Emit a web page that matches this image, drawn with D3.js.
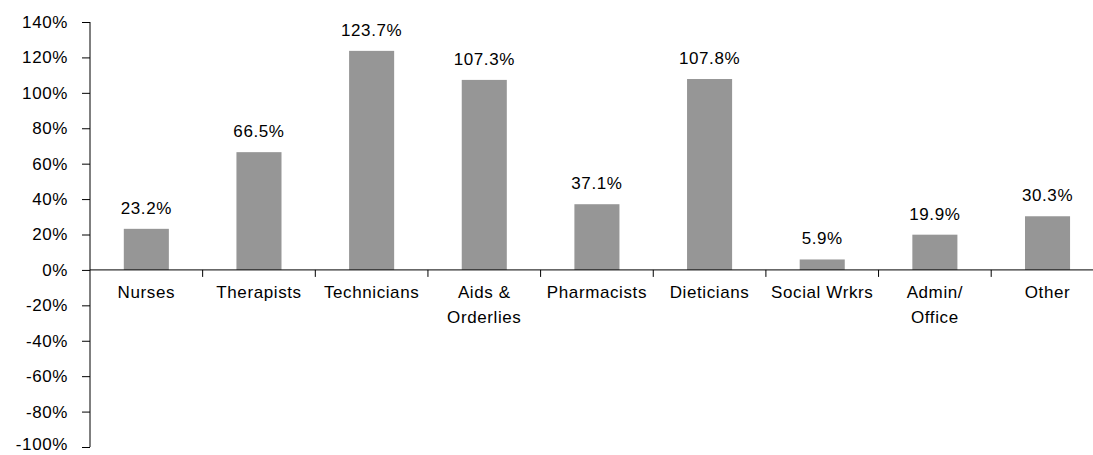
<!DOCTYPE html>
<html>
<head>
<meta charset="utf-8">
<script src="https://cdn.jsdelivr.net/npm/d3@7"></script>
<style>
  html, body { margin: 0; padding: 0; background: #fff; }
  svg { display: block; }
  text { font-family: "Liberation Sans", Arial, sans-serif; fill: #000; }
</style>
</head>
<body>
<div id="chart"></div>
<script>
// Percentage change by staff category
const categories = ["Nurses", "Therapists", "Technicians", "Aids &\nOrderlies", "Pharmacists",
                    "Dieticians", "Social Wrkrs", "Admin/\nOffice", "Other"];
const values = [23.2, 66.5, 123.7, 107.3, 37.1, 107.8, 5.9, 19.9, 30.3];
const yTicks = [140, 120, 100, 80, 60, 40, 20, 0, -20, -40, -60, -80, -100];

const W = 1093, H = 455;
const plotLeft = 90, plotTop = 22, plotBottom = 447;
const step = 112.65;

const svg = d3.select("#chart").append("svg")
  .attr("width", W).attr("height", H);

const y = d3.scaleLinear().domain([-100, 140]).range([plotBottom, plotTop]);
const x = d3.scaleBand().domain(categories)
  .range([plotLeft, plotLeft + step * categories.length])
  .paddingInner(0.6).paddingOuter(0.3);

// Bars
svg.append("g").selectAll("rect").data(values).join("rect")
  .attr("x", (d, i) => x(categories[i]))
  .attr("width", x.bandwidth())
  .attr("y", d => y(Math.max(0, d)))
  .attr("height", d => Math.abs(y(d) - y(0)))
  .attr("fill", "#969696");

// Value labels
svg.append("g").selectAll("text").data(values).join("text")
  .attr("x", (d, i) => x(categories[i]) + x.bandwidth() / 2)
  .attr("y", d => y(d) - 15)
  .attr("text-anchor", "middle")
  .style("font-size", "17px")
  .style("letter-spacing", "0.6px")
  .text(d => d.toFixed(1) + "%");

// Value axis
const yAxis = d3.axisLeft(y).tickValues(yTicks)
  .tickSize(8).tickPadding(14)
  .tickFormat(d => d + "%");
const gy = svg.append("g").attr("transform", `translate(${plotLeft},0)`).call(yAxis);
gy.select(".domain").attr("stroke", "#000").attr("d", `M0,${plotTop}V${plotBottom}`);
gy.selectAll(".tick line").attr("stroke", "#000");
gy.selectAll(".tick text")
  .style("font-size", "17px").style("letter-spacing", "0.6px")
  .style("font-family", "'Liberation Sans', Arial, sans-serif").attr("fill", "#000");
// lowest label sits at the bottom edge; lift it slightly so it stays inside
gy.selectAll(".tick text").filter(d => d === -100).attr("dy", "0.12em");

// Category axis along zero line
const gx = svg.append("g").attr("transform", `translate(0,${y(0)})`);
gx.append("line").attr("x1", plotLeft).attr("x2", W + 20)
  .attr("y1", 0).attr("y2", 0).attr("stroke", "#000");
const bounds = d3.range(categories.length + 1).map(i => x.range()[0] + i * x.step());
gx.selectAll(".sep").data(bounds.slice(1)).join("line")
  .attr("class", "sep")
  .attr("x1", d => d).attr("x2", d => d)
  .attr("y1", 0).attr("y2", 7).attr("stroke", "#000");

const lbl = gx.selectAll(".cat").data(categories).join("text")
  .attr("class", "cat")
  .attr("text-anchor", "middle")
  .attr("transform", d => `translate(${x(d) + x.bandwidth() / 2},28)`)
  .style("font-size", "17px")
  .style("letter-spacing", "0.6px");
lbl.selectAll("tspan").data(d => d.split("\n")).join("tspan")
  .attr("x", 0).attr("y", (d, i) => i * 25)
  .text(d => d);
</script>
</body>
</html>
